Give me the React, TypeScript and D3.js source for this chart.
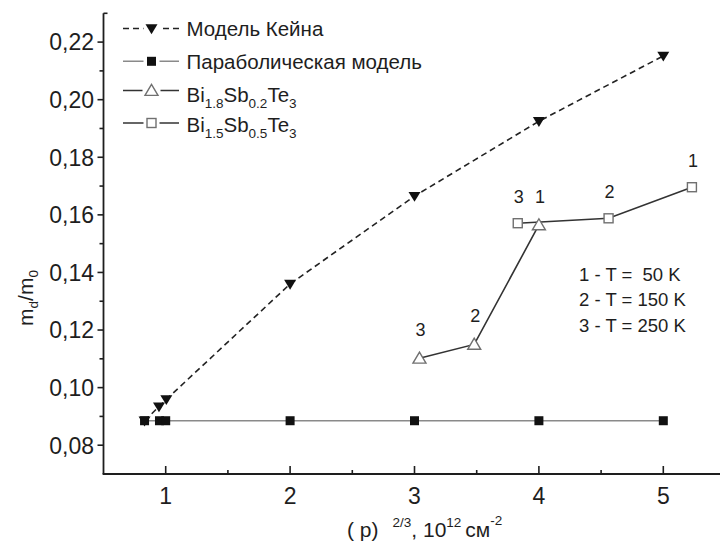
import React from "react";
import * as d3 from "d3";

// Kane model (dashed line, filled down-triangles)
const kaneX = [0.83, 0.946, 1.005, 2, 3, 4, 5];
const kaneY = [0.0885, 0.0934, 0.0959, 0.136, 0.1665, 0.1925, 0.2152];

// Parabolic model (gray line, filled squares)
const paraX = [0.83, 0.95, 1.0, 2, 3, 4, 5];
const paraY = [0.0885, 0.0885, 0.0885, 0.0885, 0.0885, 0.0885, 0.0885];

// Bi1.8Sb0.2Te3 (open triangles), with temperature index per point
const bi18X = [3.04, 3.48, 4.0];
const bi18Y = [0.1102, 0.115, 0.1565];
const bi18T = ["3", "2", "1"];

// Bi1.5Sb0.5Te3 (open squares)
const bi15X = [3.83, 4.56, 5.23];
const bi15Y = [0.1571, 0.1588, 0.1696];
const bi15T = ["3", "2", "1"];

const xTicks = [1, 2, 3, 4, 5];
const xMinor = [1.5, 2.5, 3.5, 4.5];
const yTicks = [0.08, 0.1, 0.12, 0.14, 0.16, 0.18, 0.2, 0.22];
const yMinor = [0.09, 0.11, 0.13, 0.15, 0.17, 0.19, 0.21];

const tempNotes = ["1 - T =  50 K", "2 - T = 150 K", "3 - T = 250 K"];

const W = 720;
const H = 543;
const FONT = "Arial, 'Liberation Sans', Helvetica, sans-serif";
const INK = "#1e1e1e";

const x = d3.scaleLinear().domain([0.5, 5.5]).range([103.5, 725.5]);
const y = d3.scaleLinear().domain([0.07, 0.23]).range([474, 13.3]);

const zip = (xs: number[], ys: number[]) => xs.map((v, i) => [v, ys[i]] as [number, number]);

const line = d3
  .line<[number, number]>()
  .x((d) => x(d[0]))
  .y((d) => y(d[1]));

const triDown = (cx: number, cy: number, s = 6) =>
  `M${cx - s},${cy - s * 0.7}L${cx + s},${cy - s * 0.7}L${cx},${cy + s * 0.95}Z`;
const triUp = (cx: number, cy: number, s = 6.5) =>
  `M${cx - s},${cy + s * 0.75}L${cx + s},${cy + s * 0.75}L${cx},${cy - s * 0.95}Z`;

function FilledTri({ cx, cy }: { cx: number; cy: number }) {
  return <path d={triDown(cx, cy)} fill="#111" />;
}
function FilledSq({ cx, cy }: { cx: number; cy: number }) {
  return <rect x={cx - 4.5} y={cy - 4.5} width={9} height={9} fill="#111" />;
}
function OpenTri({ cx, cy }: { cx: number; cy: number }) {
  return <path d={triUp(cx, cy)} fill="#fff" stroke="#707070" strokeWidth={1.4} />;
}
function OpenSq({ cx, cy }: { cx: number; cy: number }) {
  return (
    <rect x={cx - 4.5} y={cy - 4.5} width={9} height={9} fill="#fff" stroke="#707070" strokeWidth={1.4} />
  );
}

export default function App() {
  const kane = zip(kaneX, kaneY);
  const para = zip(paraX, paraY);
  const bi18 = zip(bi18X, bi18Y);
  const bi15 = zip(bi15X, bi15Y);

  const x0 = x.range()[0];
  const yBottom = y(0.07);
  const yTop = y(0.23);

  // legend layout
  const lgLine0 = 123;
  const lgLine1 = 179;
  const lgMid = 151.5;
  const lgText = 186.5;
  const lgSym = [28.5, 61.3, 90.5, 123];
  const lgBase = [35.5, 68.8, 101.7, 131.7];
  const LG = 20.5;
  const SUB = 13.5;

  return (
    <svg
      width={W}
      height={H}
      viewBox={`0 0 ${W} ${H}`}
      style={{ position: "absolute", left: 0, top: 0, background: "#fff" }}
      fontFamily={FONT}
    >
      <rect width={W} height={H} fill="#fff" />

      {/* axes */}
      <line x1={x0} y1={yTop} x2={x0} y2={yBottom} stroke={INK} strokeWidth={1.8} />
      <line x1={x0} y1={yTop} x2={x0 + 4} y2={yTop} stroke={INK} strokeWidth={1.6} />
      <line x1={x0 - 0.9} y1={yBottom} x2={W} y2={yBottom} stroke={INK} strokeWidth={1.8} />

      {yTicks.map((t) => (
        <g key={"yt" + t}>
          <line x1={x0 - 6} x2={x0} y1={y(t)} y2={y(t)} stroke={INK} strokeWidth={1.6} />
          <text x={94} y={y(t) + 8.3} textAnchor="end" fontSize={23} fill={INK}>
            {t.toFixed(2).replace(".", ",")}
          </text>
        </g>
      ))}
      {yMinor.map((t) => (
        <line key={"ym" + t} x1={x0 - 4} x2={x0} y1={y(t)} y2={y(t)} stroke={INK} strokeWidth={1.6} />
      ))}
      {xTicks.map((t) => (
        <g key={"xt" + t}>
          <line x1={x(t)} x2={x(t)} y1={yBottom} y2={yBottom - 8} stroke={INK} strokeWidth={1.6} />
          <text x={x(t)} y={503.5} textAnchor="middle" fontSize={23} fill={INK}>
            {t}
          </text>
        </g>
      ))}
      {xMinor.map((t) => (
        <line key={"xm" + t} x1={x(t)} x2={x(t)} y1={yBottom} y2={yBottom - 4} stroke={INK} strokeWidth={1.6} />
      ))}

      {/* axis titles */}
      <text x={347} y={537} fontSize={21} fill={INK}>
        ( p)
        <tspan dx={14} dy={-10} fontSize={13.5}>2/3</tspan>
        <tspan dy={10} fontSize={21}>, 10</tspan>
        <tspan dy={-10} fontSize={13.5}>12</tspan>
        <tspan dy={10} dx={4} fontSize={21}>см</tspan>
        <tspan dy={-12} fontSize={13.5}>-2</tspan>
      </text>
      <text transform="translate(33,298) rotate(-90)" textAnchor="middle" fontSize={21} fill={INK}>
        m
        <tspan dy={5} fontSize={13.5}>d</tspan>
        <tspan dy={-5} fontSize={21}>/m</tspan>
        <tspan dy={5} fontSize={13.5}>0</tspan>
      </text>

      {/* series lines */}
      <path d={line(para) ?? ""} fill="none" stroke="#8a8a8a" strokeWidth={1.6} />
      <path d={line(kane) ?? ""} fill="none" stroke="#222" strokeWidth={1.6} strokeDasharray="6,4" />
      <path d={line(bi15) ?? ""} fill="none" stroke="#333" strokeWidth={1.6} />
      <path d={line(bi18) ?? ""} fill="none" stroke="#333" strokeWidth={1.6} />

      {/* markers */}
      {para.map((d, i) => (
        <FilledSq key={"p" + i} cx={x(d[0])} cy={y(d[1])} />
      ))}
      {kane.map((d, i) => (
        <FilledTri key={"k" + i} cx={x(d[0])} cy={y(d[1])} />
      ))}
      {bi15.map((d, i) => (
        <OpenSq key={"s" + i} cx={x(d[0])} cy={y(d[1])} />
      ))}
      {bi18.map((d, i) => (
        <OpenTri key={"t" + i} cx={x(d[0])} cy={y(d[1])} />
      ))}

      {/* temperature indices above the points */}
      {bi18.map((d, i) => (
        <text key={"tl" + i} x={x(d[0]) + 1} y={y(d[1]) - 22} textAnchor="middle" fontSize={18} fill={INK}>
          {bi18T[i]}
        </text>
      ))}
      {bi15.map((d, i) => (
        <text key={"sl" + i} x={x(d[0]) + 1} y={y(d[1]) - 20} textAnchor="middle" fontSize={18} fill={INK}>
          {bi15T[i]}
        </text>
      ))}

      {tempNotes.map((t, i) => (
        <text key={"n" + i} x={579} y={280.5 + i * 25.5} fontSize={18.5} fill={INK} style={{ whiteSpace: "pre" }}>
          {t}
        </text>
      ))}

      {/* legend */}
      <g>
        <line x1={lgLine0} x2={lgLine1} y1={lgSym[0]} y2={lgSym[0]} stroke="#222" strokeWidth={1.5} strokeDasharray="6,4" />
        <rect x={lgMid - 8} y={lgSym[0] - 6} width={16} height={12} fill="#fff" />
        <FilledTri cx={lgMid} cy={lgSym[0]} />
        <text x={lgText} y={lgBase[0]} fontSize={LG} fill={INK}>Модель Кейна</text>

        <line x1={lgLine0} x2={lgLine1} y1={lgSym[1]} y2={lgSym[1]} stroke="#8a8a8a" strokeWidth={1.5} />
        <rect x={lgMid - 8} y={lgSym[1] - 6} width={16} height={12} fill="#fff" />
        <FilledSq cx={lgMid} cy={lgSym[1]} />
        <text x={lgText} y={lgBase[1]} fontSize={LG} fill={INK}>Параболическая модель</text>

        <line x1={lgLine0} x2={lgLine1} y1={lgSym[2]} y2={lgSym[2]} stroke="#333" strokeWidth={1.5} />
        <rect x={lgMid - 9} y={lgSym[2] - 7} width={18} height={14} fill="#fff" />
        <OpenTri cx={lgMid} cy={lgSym[2]} />
        <text x={lgText} y={lgBase[2]} fontSize={LG} fill={INK}>
          Bi<tspan dy={6} fontSize={SUB}>1.8</tspan>
          <tspan dy={-6}>Sb</tspan>
          <tspan dy={6} fontSize={SUB}>0.2</tspan>
          <tspan dy={-6}>Te</tspan>
          <tspan dy={6} fontSize={SUB}>3</tspan>
        </text>

        <line x1={lgLine0} x2={lgLine1} y1={lgSym[3]} y2={lgSym[3]} stroke="#333" strokeWidth={1.5} />
        <rect x={lgMid - 8} y={lgSym[3] - 6} width={16} height={12} fill="#fff" />
        <OpenSq cx={lgMid} cy={lgSym[3]} />
        <text x={lgText} y={lgBase[3]} fontSize={LG} fill={INK}>
          Bi<tspan dy={6} fontSize={SUB}>1.5</tspan>
          <tspan dy={-6}>Sb</tspan>
          <tspan dy={6} fontSize={SUB}>0.5</tspan>
          <tspan dy={-6}>Te</tspan>
          <tspan dy={6} fontSize={SUB}>3</tspan>
        </text>
      </g>
    </svg>
  );
}
